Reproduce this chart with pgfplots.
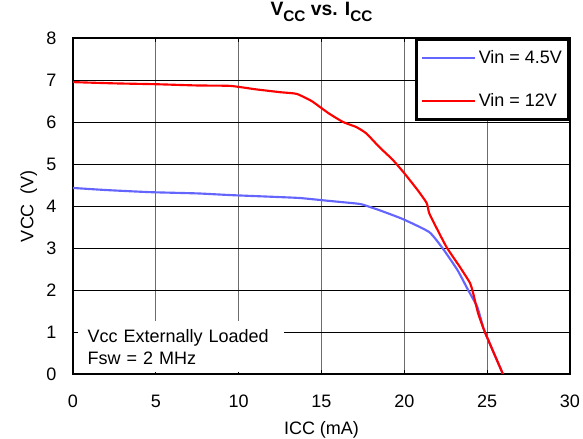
\documentclass[border=0pt]{standalone}
\usepackage{fontspec}
\setmainfont{Liberation Sans}
\usepackage{pgfplots}
\pgfplotsset{compat=1.18}
\definecolor{myblue}{RGB}{100,100,255}
\newcommand{\sub}[1]{\raisebox{-0.28em}{\fontsize{11.5}{13}\selectfont #1}}
\begin{document}
\begin{tikzpicture}[x=0.75pt,y=0.75pt]
\useasboundingbox (-73,-65) rectangle (510,374);
\begin{axis}[
  at={(0,0)}, anchor=south west,
  scale only axis,
  width=372.75pt, height=252pt,
  xmin=0, xmax=30, ymin=0, ymax=8,
  xtick={0,5,...,30}, ytick={0,1,...,8},
  /pgf/number format/assume math mode=true,
  ticklabel style={font=\fontsize{13.5}{15}\selectfont},
  xticklabel style={yshift=-12pt},
  yticklabel style={xshift=-9pt},
  label style={font=\fontsize{13.5}{15}\selectfont},
  xlabel={ICC (mA)}, ylabel={VCC~~(V)},
  xlabel style={yshift=-4pt},
  ylabel style={yshift=0pt},
  title={\textbf{V\sub{\textbf{CC}} vs. I\sub{\textbf{CC}}}},
  title style={font=\fontsize{14.5}{16}\selectfont, yshift=3pt},
  grid=major,
  x grid style={gray!85!black, line width=0.9pt},
  y grid style={black, line width=0.7pt},
  tick style={black, line width=0.7pt},
  tick align=inside, major tick length=3pt,
  axis line style={line width=2pt},
  legend cell align=left,
  legend image code/.code={\draw[#1] (0pt,0pt) -- (40pt,0pt);},
  legend style={at={(rel axis cs:1,1)}, anchor=north east, draw=black, line width=2pt,
    font=\fontsize{13.5}{15}\selectfont, inner xsep=3pt, inner ysep=6.5pt, row sep=16.5pt, fill=white},
  legend image post style={line width=1.5pt},
]
\addplot[myblue, line width=1.6pt, smooth, tension=0.3] coordinates {
(0,4.43) (2,4.38) (4.65,4.33) (7.5,4.30) (9.5,4.26) (12,4.22) (13.7,4.19) (15.5,4.12) (17.3,4.05) (17.9,3.98) (18.5,3.9) (19.9,3.69) (21.5,3.38) (22.3,3.0) (23.2,2.48) (23.85,2.0) (24.4,1.6) (24.7,1.2) (24.86,1.0) (25.95,0)
};
\addlegendentry{Vin = 4.5V}
\addplot[red, line width=1.6pt, smooth, tension=0.3] coordinates {
(0,6.95) (2.5,6.92) (5,6.9) (7.5,6.87) (9.5,6.86) (11,6.78) (12.5,6.71) (13.5,6.67) (14.4,6.5) (15.0,6.33) (15.5,6.19) (16.3,6.0) (17.1,5.88) (17.7,5.73) (18.5,5.4) (19.3,5.1) (20.0,4.78) (20.8,4.38) (21.35,4.07) (21.5,3.83) (21.85,3.55) (22.55,3.02) (23.35,2.55) (23.96,2.17) (24.15,1.93) (24.45,1.45) (24.86,1.0) (25.95,0)
};
\addlegendentry{Vin = 12V}
\node[anchor=south west, fill=white, align=left, text width=140pt, inner xsep=7pt, inner ysep=6pt,
  font=\fontsize{13.5}{16.5}\selectfont] at (rel axis cs:0.01,0.004)
  {Vcc Externally Loaded\\Fsw = 2 MHz};
\end{axis}
\end{tikzpicture}
\end{document}
